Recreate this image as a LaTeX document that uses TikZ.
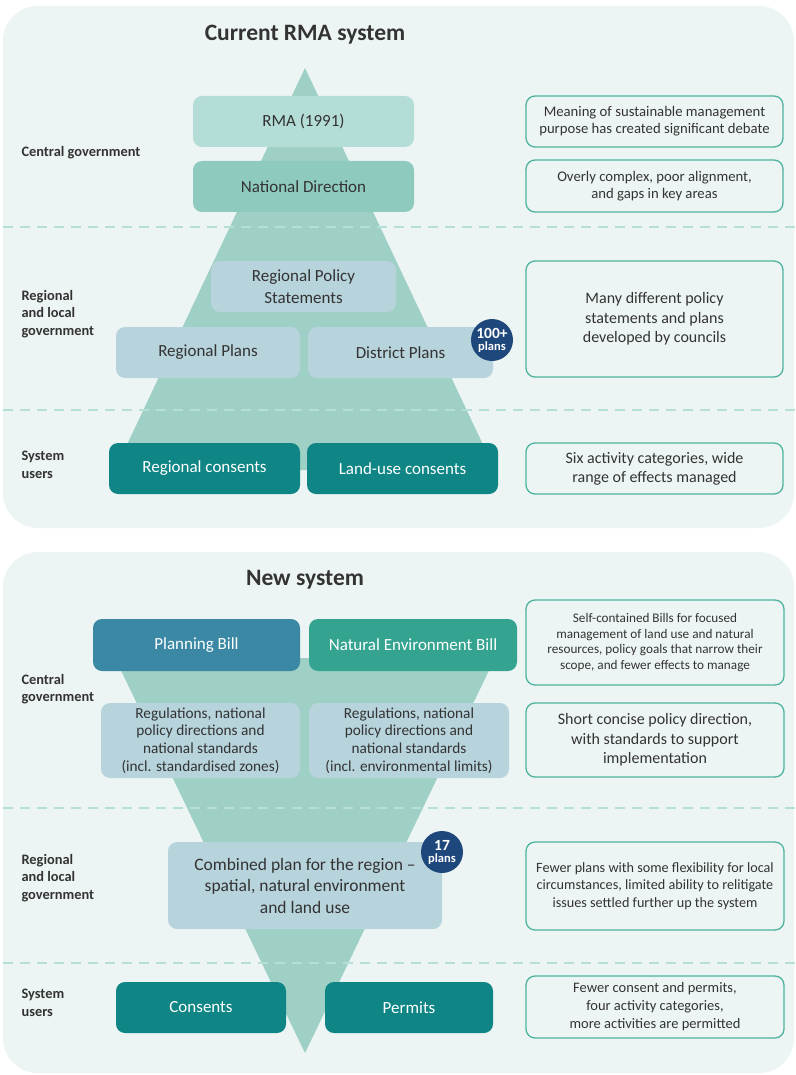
\documentclass[tikz,border=0pt]{standalone}
\usepackage{fontspec}
\setmainfont{Carlito}
\definecolor{panelbg}{HTML}{EDF5F4}
\definecolor{tri}{HTML}{9ED0C5}
\definecolor{rmac}{HTML}{B3DDD6}
\definecolor{natc}{HTML}{8ECABD}
\definecolor{lblue}{HTML}{B7D3DC}
\definecolor{dteal}{HTML}{0F8585}
\definecolor{pbill}{HTML}{3A88A4}
\definecolor{nebill}{HTML}{34A38F}
\definecolor{navy}{HTML}{1E477B}
\definecolor{rborder}{HTML}{4DB39E}
\definecolor{dashc}{HTML}{B5DFD7}
\definecolor{txt}{HTML}{333333}
\begin{document}
\begin{tikzpicture}[x=1pt,y=-1pt,
  box/.style={rounded corners=9pt, inner sep=0pt, align=center, text=txt},
  lbox/.style={box, fill=lblue},
  tbox/.style={box, fill=dteal, text=white},
  rbox/.style={box, draw=rborder, line width=1.3pt, fill=panelbg},
  lab/.style={anchor=west, align=left, text=txt, font=\fontsize{14.4}{17.5}\selectfont\bfseries},
  badge/.style={circle, fill=navy, minimum size=42pt, inner sep=0pt, align=center, text=white},
  sep/.style={dashc, line width=1.2pt, dash pattern=on 10pt off 7pt},
  ttl/.style={text=txt, font=\fontsize{23.5}{28}\selectfont\bfseries},
  bigt/.style={font=\fontsize{17}{21.5}\selectfont}
]
\useasboundingbox (0,0) rectangle (795,1075);
\fill[white] (0,0) rectangle (795,1075);
% panels
\fill[panelbg, rounded corners=35pt] (3,6) rectangle (794,528);
\fill[panelbg, rounded corners=35pt] (3,552) rectangle (794,1073);
% triangles
\fill[tri] (305,68) -- (495,470) -- (115,470) -- cycle;
\fill[tri] (115,658) -- (495,658) -- (305,1053) -- cycle;
% separators
\draw[sep] (3,227) -- (795,227);
\draw[sep] (3,410) -- (795,410);
\draw[sep] (3,808) -- (795,808);
\draw[sep] (3,963) -- (795,963);
% titles
\node[ttl] (t1) at (305,35) {Current RMA system};
\node[ttl] (t2) at (305,580) {New system};
% left labels panel 1
\node[lab] (l1) at (18,153) {Central government};
\node[lab] (l2) at (18,314) {Regional\\and local\\government};
\node[lab] (l3) at (18,465) {System\\users};
% left labels panel 2
\node[lab] (l4) at (18,689) {Central\\government};
\node[lab] (l5) at (18,878) {Regional\\and local\\government};
\node[lab] (l6) at (18,1003) {System\\users};
% panel 1 boxes
\node[box, bigt, fill=rmac, minimum width=221pt, minimum height=51pt] (rma) at (303.5,121.5) {RMA (1991)};
\node[box, bigt, fill=natc, minimum width=221pt, minimum height=51pt] (nat) at (303.5,186.5) {National Direction};
\node[lbox, bigt, minimum width=185pt, minimum height=51pt] (rps) at (303.5,286.5) {Regional Policy\\Statements};
\node[lbox, bigt, minimum width=184pt, minimum height=51pt] (rp) at (208,352.5) {Regional Plans};
\node[lbox, bigt, minimum width=185pt, minimum height=51pt] (dp) at (400.5,352.5) {District Plans};
\node[badge] (b100) at (492,340) {\fontsize{15.5}{12.5}\selectfont\bfseries 100+\\\fontsize{12.5}{11}\selectfont\bfseries plans};
\node[tbox, bigt, minimum width=191pt, minimum height=51pt] (rc) at (204.5,468.5) {Regional consents};
\node[tbox, bigt, minimum width=191pt, minimum height=51pt] (lc) at (402.5,468.5) {Land-use consents};
% panel 1 right boxes
\node[rbox, minimum width=257pt, minimum height=51pt, font=\fontsize{14.7}{16.7}\selectfont] (r1) at (654.5,121.5) {Meaning of sustainable management\\purpose has created significant debate};
\node[rbox, minimum width=257pt, minimum height=52pt, font=\fontsize{14.7}{16.7}\selectfont] (r2) at (654.5,186) {Overly complex, poor alignment,\\and gaps in key areas};
\node[rbox, minimum width=257pt, minimum height=116pt, font=\fontsize{16}{19.5}\selectfont] (r3) at (654.5,319) {Many different policy\\statements and plans\\developed by councils};
\node[rbox, minimum width=257pt, minimum height=51pt, font=\fontsize{16}{19}\selectfont] (r4) at (654.5,468.5) {Six activity categories, wide\\range of effects managed};
% panel 2 boxes
\node[box, bigt, fill=pbill, text=white, minimum width=207pt, minimum height=52pt] (pb) at (196.5,645) {Planning Bill};
\node[box, bigt, fill=nebill, text=white, minimum width=208pt, minimum height=52pt] (neb) at (413,645) {Natural Environment Bill};
\node[lbox, minimum width=199pt, minimum height=75pt, font=\fontsize{15.3}{17.7}\selectfont] (reg1) at (200.5,740.5) {Regulations, national\\policy directions and\\national standards\\(incl. standardised zones)};
\node[lbox, minimum width=200pt, minimum height=75pt, font=\fontsize{15.3}{17.7}\selectfont] (reg2) at (409,740.5) {Regulations, national\\policy directions and\\national standards\\(incl. environmental limits)};
\node[lbox, minimum width=274pt, minimum height=87pt, font=\fontsize{17.5}{21.5}\selectfont] (comb) at (305,885.5) {Combined plan for the region –\\spatial, natural environment\\and land use};
\node[badge] (b17) at (442,852) {\fontsize{15.5}{12.5}\selectfont\bfseries 17\\\fontsize{12.5}{11}\selectfont\bfseries plans};
\node[tbox, bigt, minimum width=170pt, minimum height=51pt] (cons) at (201,1007.5) {Consents};
\node[tbox, bigt, minimum width=168pt, minimum height=51pt] (perm) at (409,1007.5) {Permits};
% panel 2 right boxes
\node[rbox, minimum width=258pt, minimum height=85pt, font=\fontsize{13.2}{15.9}\selectfont] (ra) at (655,642.5) {Self-contained Bills for focused\\management of land use and natural\\resources, policy goals that narrow their\\scope, and fewer effects to manage};
\node[rbox, minimum width=258pt, minimum height=74pt, font=\fontsize{16}{19.5}\selectfont] (rb) at (655,740) {Short concise policy direction,\\with standards to support\\implementation};
\node[rbox, minimum width=258pt, minimum height=88pt, font=\fontsize{14.2}{17.5}\selectfont] (rc2) at (655,886) {Fewer plans with some flexibility for local\\circumstances, limited ability to relitigate\\issues settled further up the system};
\node[rbox, minimum width=258pt, minimum height=62pt, font=\fontsize{14.5}{18}\selectfont] (rd) at (655,1007) {Fewer consent and permits,\\four activity categories,\\more activities are permitted};
\end{tikzpicture}
\end{document}
